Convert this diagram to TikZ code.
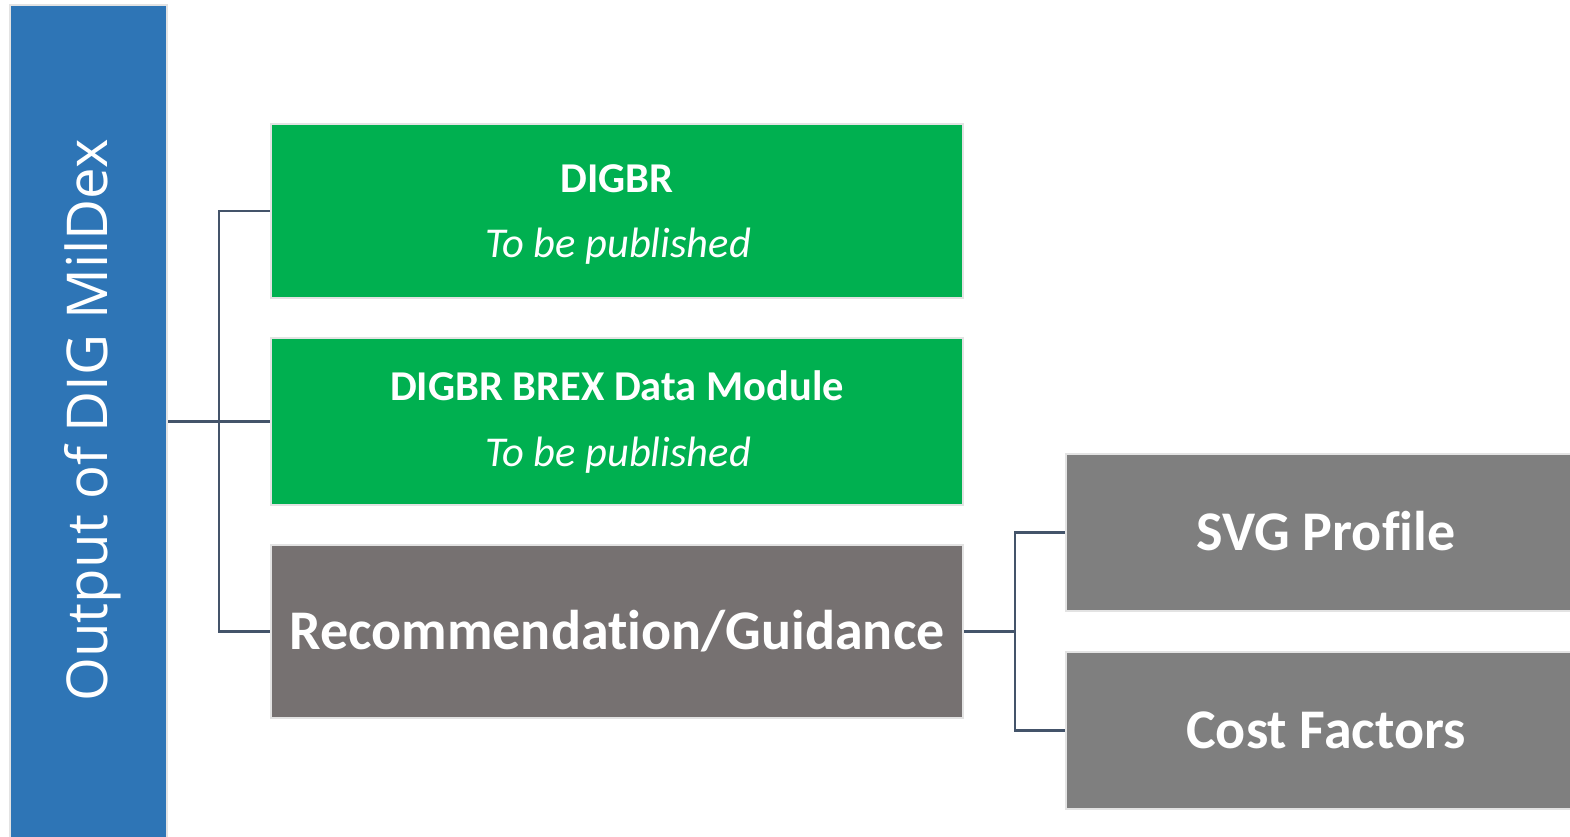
\documentclass[tikz,border=0pt]{standalone}
\usepackage{fontspec}
\setmainfont{Carlito}[Ligatures=NoCommon]
\newfontfamily\barfont{Open Sans}
\definecolor{barblue}{HTML}{2E75B6}
\definecolor{okgreen}{HTML}{00B050}
\definecolor{midgray}{HTML}{767171}
\definecolor{sidegray}{HTML}{7F7F7F}
\definecolor{edge}{HTML}{E3E3E3}
\definecolor{conncol}{HTML}{44546A}
\tikzset{
  box/.style={rectangle, draw=edge, line width=2.5pt, inner sep=0pt},
  conn/.style={draw=conncol, line width=2.2pt},
  wtxt/.style={text=white, inner sep=0pt, anchor=base},
}
\begin{document}
\begin{tikzpicture}[x=1pt,y=-1pt]
\useasboundingbox (0,0) rectangle (1570,836);
\clip (0,0) rectangle (1570,836);
\node[box, fill=barblue, minimum width=157pt, minimum height=840pt] (out) at (88.5,425) {};
\node[wtxt, rotate=90] (outt) at (107.5,420.5) {\barfont\fontsize{56.3}{60}\selectfont Output of DIG MilDex};
\node[box, fill=okgreen, minimum width=692pt, minimum height=174pt] (d1) at (617,211) {};
\node[box, fill=okgreen, minimum width=692pt, minimum height=167pt] (d2) at (617,421.5) {};
\node[box, fill=midgray, minimum width=692pt, minimum height=173pt] (rg) at (617,631.5) {};
\node[box, fill=sidegray, minimum width=520pt, minimum height=157pt] (svg) at (1326,532.5) {};
\node[box, fill=sidegray, minimum width=520pt, minimum height=157pt] (cost) at (1326,730.5) {};
\node[wtxt] (d1a) at (617,192) {\fontsize{42.5}{48}\selectfont\bfseries DIGBR};
\node[wtxt] (d1b) at (618,257.5) {\fontsize{42.5}{48}\selectfont\itshape To be published};
\node[wtxt] (d2a) at (617,400.5) {\fontsize{42.5}{48}\selectfont\bfseries DIGBR BREX Data Module};
\node[wtxt] (d2b) at (618,466.5) {\fontsize{42.5}{48}\selectfont\itshape To be published};
\node[wtxt] (rgt) at (617,649) {\fontsize{56}{62}\selectfont\bfseries Recommendation/Guidance};
\node[wtxt] (svgt) at (1326,550) {\fontsize{56}{62}\selectfont\bfseries SVG Profile};
\node[wtxt] (costt) at (1326,748) {\fontsize{56}{62}\selectfont\bfseries Cost Factors};
\coordinate (j1) at (219,421.5);
\coordinate (j2) at (1015,631.5);
\draw[conn] (out.east |- d2.west) -- (d2.west);
\draw[conn] (d1.west) -- (d1.west -| j1) -- (rg.west -| j1) -- (rg.west);
\draw[conn] (rg.east) -- (j2);
\draw[conn] (svg.west) -- (svg.west -| j2) -- (cost.west -| j2) -- (cost.west);
\end{tikzpicture}
\end{document}
